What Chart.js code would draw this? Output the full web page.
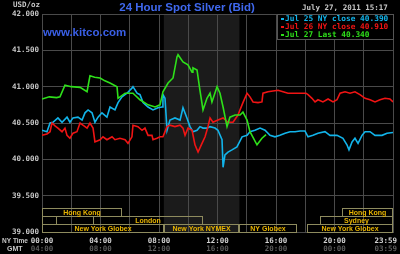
<!DOCTYPE html>
<html>
<head>
<meta charset="utf-8">
<script src="https://cdn.jsdelivr.net/npm/chart.js@4"></script>
<style>
    html, body { margin: 0; padding: 0; background: #000; }
    #wrap { width: 400px; height: 254px; }
</style>
</head>
<body>
<div id="wrap"><canvas id="silverChart" width="400" height="254"></canvas></div>
<script>
// Saat (NY saati) ve fiyat dizileri
const jul25Hours = [0, 0.34, 0.55, 0.75, 1.09, 1.37, 1.71, 1.91, 2.12, 2.46, 2.74, 2.94, 3.15, 3.42, 3.62, 3.83, 4.1, 4.44, 4.65, 4.99,
    5.2, 5.47, 5.81, 6.15, 6.22, 6.5, 6.7, 6.91, 7.25, 7.59, 7.93, 8.21, 8.27, 8.41, 8.55, 8.75, 9.09, 9.44, 9.64, 9.91,
    10.12, 10.32, 10.6, 10.8, 11.01, 11.28, 11.49, 11.83, 12.03, 12.31, 12.38, 12.51, 12.72, 12.99, 13.33, 13.68, 14.02, 14.22, 14.56, 14.91,
    15.25, 15.59, 15.93, 16.27, 16.62, 16.96, 17.3, 17.64, 17.98, 18.19, 18.53, 18.87, 19.35, 19.69, 20.17, 20.58, 20.85, 20.99, 21.2, 21.4,
    21.61, 21.88, 22.09, 22.43, 22.77, 23.25, 23.59, 24];
const jul25Prices = [40.40, 40.38, 40.50, 40.51, 40.57, 40.51, 40.58, 40.51, 40.57, 40.58, 40.54, 40.64, 40.68, 40.64, 40.51, 40.58, 40.64, 40.58, 40.72, 40.68,
    40.78, 40.86, 40.91, 40.98, 41.00, 40.91, 40.89, 40.78, 40.72, 40.68, 40.71, 40.72, 40.89, 40.84, 40.40, 40.54, 40.57, 40.54, 40.71, 40.57,
    40.45, 40.38, 40.40, 40.45, 40.43, 40.43, 40.45, 40.43, 40.40, 40.27, 39.89, 40.06, 40.10, 40.13, 40.17, 40.31, 40.33, 40.38, 40.40, 40.43,
    40.40, 40.33, 40.31, 40.33, 40.36, 40.38, 40.38, 40.39, 40.39, 40.31, 40.33, 40.36, 40.38, 40.33, 40.33, 40.29, 40.20, 40.13, 40.24, 40.29,
    40.22, 40.33, 40.38, 40.38, 40.33, 40.33, 40.36, 40.37];

const jul26Hours = [0, 0.34, 0.55, 0.68, 0.89, 1.09, 1.37, 1.57, 1.71, 1.91, 2.12, 2.39, 2.6, 2.8, 3.08, 3.28, 3.49, 3.62, 3.97, 4.17,
    4.44, 4.79, 4.99, 5.33, 5.68, 5.88, 6.15, 6.22, 6.56, 6.84, 7.04, 7.25, 7.52, 7.59, 7.86, 8.07, 8.27, 8.55, 8.75, 9.09,
    9.44, 9.64, 9.78, 9.98, 10.26, 10.46, 10.67, 10.94, 11.15, 11.35, 11.49, 11.69, 12.03, 12.38, 12.72, 13.06, 13.4, 13.54, 13.74, 14.02,
    14.22, 14.43, 14.77, 15.04, 15.11, 15.45, 15.79, 16.14, 16.48, 16.82, 17.16, 17.64, 18.05, 18.19, 18.46, 18.67, 18.87, 19.21, 19.56, 19.9,
    20.17, 20.38, 20.72, 21.06, 21.4, 21.74, 22.09, 22.43, 22.77, 23.11, 23.45, 23.79, 24];
const jul26Prices = [40.33, 40.35, 40.38, 40.50, 40.46, 40.43, 40.38, 40.43, 40.33, 40.29, 40.36, 40.38, 40.50, 40.47, 40.43, 40.50, 40.43, 40.24, 40.27, 40.31,
    40.27, 40.31, 40.27, 40.29, 40.27, 40.22, 40.31, 40.47, 40.45, 40.40, 40.43, 40.33, 40.33, 40.27, 40.29, 40.31, 40.31, 40.45, 40.47, 40.45,
    40.47, 40.43, 40.33, 40.43, 40.40, 40.20, 40.10, 40.22, 40.31, 40.45, 40.57, 40.51, 40.54, 40.57, 40.51, 40.51, 40.61, 40.68, 40.78, 40.91,
    40.86, 40.79, 40.78, 40.79, 40.91, 40.93, 40.94, 40.95, 40.93, 40.91, 40.91, 40.91, 40.91, 40.89, 40.84, 40.79, 40.82, 40.79, 40.83, 40.79,
    40.82, 40.91, 40.93, 40.91, 40.93, 40.89, 40.84, 40.82, 40.79, 40.82, 40.84, 40.83, 40.79];

const jul27Hours = [0, 0.5, 1.0, 1.23, 1.57, 2.0, 2.6, 3.08, 3.28, 3.6, 3.97, 4.3, 4.65, 5.13, 5.2, 5.68, 6.22, 6.7, 7.25, 7.73,
    8.07, 8.27, 8.62, 8.96, 9.23, 9.3, 9.64, 9.98, 10.26, 10.32, 10.6, 10.8, 11.01, 11.28, 11.49, 11.62, 11.97, 12.17, 12.38, 12.65,
    12.85, 13.2, 13.54, 13.74, 14.02, 14.22, 14.7, 15.04, 15.32];
const jul27Prices = [40.83, 40.86, 40.85, 40.86, 41.02, 41.00, 40.99, 40.93, 41.15, 41.13, 41.12, 41.08, 41.05, 41.00, 40.84, 40.91, 40.91, 40.82, 40.75, 40.72,
    40.75, 40.93, 41.05, 41.12, 41.41, 41.44, 41.34, 41.30, 41.20, 41.26, 41.23, 40.95, 40.68, 40.84, 40.91, 40.79, 41.00, 40.91, 40.72, 40.45,
    40.58, 40.61, 40.61, 40.65, 40.54, 40.38, 40.20, 40.29, 40.34];

const legendLabels = ['Jul 25 NY close 40.390', 'Jul 26 NY close 40.910', 'Jul 27 Last 40.340'];
const lineColors = ['#12b4ea', '#f01414', '#2ee01a'];

const labelHours = [0, 4, 8, 12, 16, 20, 24];
const nyTimeLabels = ['00:00', '04:00', '08:00', '12:00', '16:00', '20:00', '23:59'];
const gmtLabels = ['04:00', '08:00', '12:00', '16:00', '20:00', '00:00', '03:59'];

// Piyasa seansları: isim, başlangıç, bitiş (saat), satır
const sessionNames = ['Hong Kong', '', 'London', 'New York Globex', 'New York NYMEX', 'NY Globex', 'New York Globex', 'Sydney', 'Hong Kong'];
const sessionStart = [0, 0, 3.5, 0, 8.33, 13.5, 18.1, 19.0, 20.5];
const sessionEnd = [5.5, 1.0, 11.0, 8.33, 13.5, 17.45, 24, 24, 24];
const sessionRow = [0, 1, 1, 2, 2, 2, 2, 1, 0];
const nymexShade = [8.33, 13.5];

const monoFont = "'DejaVu Sans Mono', monospace";
const sansFont = "'Liberation Sans', Arial, sans-serif";

function toPoints(hours, prices) {
    return hours.map((h, i) => ({ x: h, y: prices[i] }));
}

// Çizim eklentisi: gölge, seans kutuları, başlıklar, legend
const kitcoDecor = {
    id: 'kitcoDecor',
    beforeDraw(chart) {
        const ctx = chart.ctx;
        const area = chart.chartArea;
        const xs = chart.scales.x;
        ctx.save();
        ctx.fillStyle = '#000';
        ctx.fillRect(0, 0, chart.width, chart.height);
        const x1 = xs.getPixelForValue(nymexShade[0]);
        const x2 = xs.getPixelForValue(nymexShade[1]);
        ctx.fillStyle = '#1b1b1b';
        ctx.fillRect(x1, area.top, x2 - x1, area.bottom - area.top);
        ctx.restore();
    },
    afterDraw(chart) {
        const ctx = chart.ctx;
        const area = chart.chartArea;
        const xs = chart.scales.x;
        ctx.save();

        // seans kutuları
        ctx.lineWidth = 1;
        ctx.font = 'bold 7px ' + sansFont;
        ctx.textAlign = 'center';
        ctx.textBaseline = 'middle';
        sessionNames.forEach((name, i) => {
            const left = Math.round(xs.getPixelForValue(sessionStart[i])) + 0.5;
            const right = Math.round(xs.getPixelForValue(sessionEnd[i])) - 0.5;
            const top = area.bottom - 24 + sessionRow[i] * 8 + 0.5;
            ctx.strokeStyle = '#8e8b5e';
            ctx.strokeRect(left, top, right - left, 8);
            if (name) {
                ctx.fillStyle = '#e8b400';
                ctx.fillText(name, (left + right) / 2, top + 4.5);
            }
        });

        // alt saat etiketleri
        ctx.font = 'bold 7.5px ' + monoFont;
        labelHours.forEach((h, i) => {
            let x = xs.getPixelForValue(h);
            const w = ctx.measureText(nyTimeLabels[i]).width;
            if (x + w / 2 > chart.width - 3) x = chart.width - 3 - w / 2;
            ctx.fillStyle = '#d4d4d4';
            ctx.fillText(nyTimeLabels[i], x, 241);
            ctx.fillStyle = '#5c5c5c';
            ctx.fillText(gmtLabels[i], x, 249);
        });
        ctx.fillStyle = '#c8c8c8';
        ctx.textAlign = 'left';
        ctx.font = 'bold 7px ' + sansFont;
        ctx.fillText('NY Time', 2, 241, 26);
        ctx.fillText('GMT', 7, 249);

        ctx.font = 'bold 7.5px ' + monoFont;
        ctx.fillText('USD/oz', 13, 5);
        ctx.fillText('July 27, 2011 15:17', 302, 8);

        // başlık ve site adı
        ctx.fillStyle = '#3f68ee';
        ctx.font = 'bold 11.5px ' + sansFont;
        ctx.textAlign = 'center';
        ctx.textBaseline = 'alphabetic';
        ctx.fillText('24 Hour Spot Silver (Bid)', 187, 11);
        ctx.textAlign = 'left';
        ctx.fillStyle = '#3a5fe6';
        ctx.fillText('www.kitco.com', 43, 36);

        // legend kutusu
        ctx.fillStyle = '#000';
        ctx.fillRect(277, 14, 117, 26);
        ctx.strokeStyle = '#555';
        ctx.strokeRect(277.5, 14.5, 116, 25);
        ctx.font = 'bold 7.8px ' + monoFont;
        ctx.textBaseline = 'middle';
        legendLabels.forEach((label, i) => {
            const y = 18.5 + i * 8;
            ctx.fillStyle = lineColors[i];
            ctx.fillRect(281, Math.round(y) - 1, 3, 2);
            ctx.fillText(label, 285, y);
        });
        ctx.restore();
    }
};

const gridColor = '#4a4a4a';

new Chart(document.getElementById('silverChart'), {
    type: 'line',
    data: {
        datasets: [
            { label: legendLabels[0], data: toPoints(jul25Hours, jul25Prices), borderColor: lineColors[0], order: 2 },
            { label: legendLabels[1], data: toPoints(jul26Hours, jul26Prices), borderColor: lineColors[1], order: 1 },
            { label: legendLabels[2], data: toPoints(jul27Hours, jul27Prices), borderColor: lineColors[2], order: 0 }
        ].map(d => Object.assign(d, { borderWidth: 1.6, pointRadius: 0, tension: 0, fill: false }))
    },
    options: {
        responsive: false,
        animation: false,
        devicePixelRatio: 1,
        layout: { padding: { left: 0, top: 14, right: 7, bottom: 22 } },
        plugins: { legend: { display: false }, tooltip: { enabled: false } },
        scales: {
            x: {
                type: 'linear',
                min: 0,
                max: 24,
                ticks: { display: false, stepSize: 2 },
                grid: { color: gridColor, drawTicks: false },
                border: { color: gridColor },
                afterFit(scale) { scale.height = 0; }
            },
            y: {
                min: 39,
                max: 42,
                ticks: {
                    stepSize: 0.5,
                    padding: 3,
                    color: '#c8c8c8',
                    font: { family: 'DejaVu Sans Mono', size: 7.5, weight: 'bold' },
                    callback: v => v.toFixed(3)
                },
                grid: { color: gridColor, drawTicks: false },
                border: { color: gridColor },
                afterFit(scale) { scale.width = 42; }
            }
        }
    },
    plugins: [kitcoDecor]
});
</script>
</body>
</html>
